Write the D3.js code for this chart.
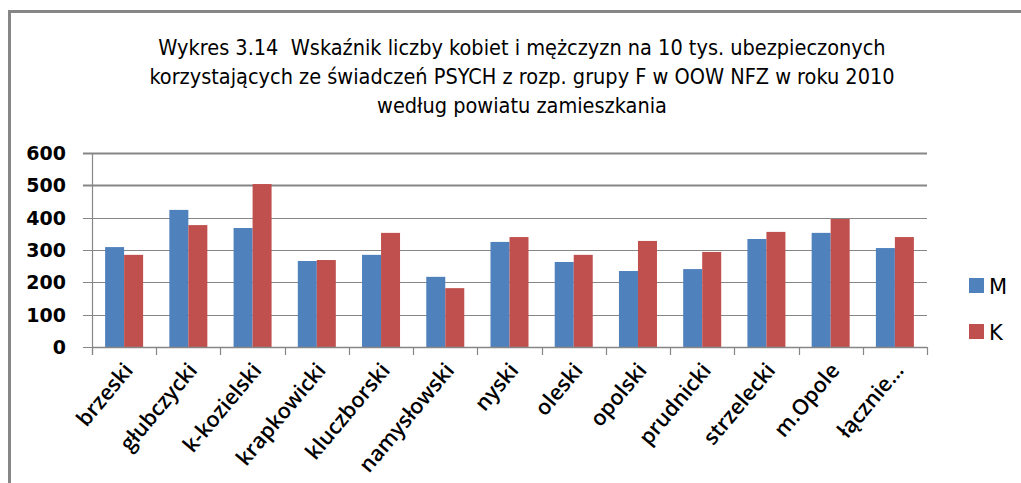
<!DOCTYPE html>
<html>
<head>
<meta charset="utf-8">
<script src="https://cdn.jsdelivr.net/npm/d3@7"></script>
<style>
  body { margin: 0; background: #fff; }
  svg { display: block; }
</style>
</head>
<body>
<div id="chart"></div>
<script>
// data
var categories = ["brzeski", "głubczycki", "k-kozielski", "krapkowicki", "kluczborski", "namysłowski",
  "nyski", "oleski", "opolski", "prudnicki", "strzelecki", "m.Opole", "łącznie..."]
var seriesNames = ["M", "K"]
var valuesM = [309, 424, 368, 266, 285, 217, 325, 263, 235, 241, 334, 353, 306]
var valuesK = [285, 377, 504, 269, 353, 182, 340, 285, 328, 294, 356, 396, 340]
var yTicks = [0, 100, 200, 300, 400, 500, 600]
var titleLines = [
  "Wykres 3.14  Wskaźnik liczby kobiet i mężczyzn na 10 tys. ubezpieczonych",
  "korzystających ze świadczeń PSYCH z rozp. grupy F w OOW NFZ w roku 2010",
  "według powiatu zamieszkania"
]

var width = 1021
var height = 483
var colors = { M: "#4F81BD", K: "#C0504D" }
var gridColor = "#868686"

var rows = categories.map(function (c, i) {
  return { cat: c, M: valuesM[i], K: valuesK[i] }
})

var svg = d3.select("#chart").append("svg")
  .attr("width", width)
  .attr("height", height)

// outer frame
svg.append("rect")
  .attr("x", 9.5).attr("y", 11.5)
  .attr("width", 1030).attr("height", 500)
  .attr("fill", "none")
  .attr("stroke", gridColor)
  .attr("stroke-width", 3)

// title
svg.append("g").selectAll("text")
  .data(titleLines)
  .join("text")
  .attr("x", 522)
  .attr("y", function (d, i) { return 55 + i * 29 })
  .attr("text-anchor", "middle")
  .style("font-family", "'DejaVu Sans Condensed', 'DejaVu Sans', sans-serif")
  .style("font-size", "21.5px")
  .style("white-space", "pre")
  .attr("fill", "#000")
  .text(function (d) { return d })

var plot = { left: 92, right: 927, top: 153, bottom: 347 }

var x0 = d3.scaleBand()
  .domain(categories)
  .range([plot.left, plot.right])
  .padding(0)

var x1 = d3.scaleBand()
  .domain(seriesNames)
  .range([0, x0.bandwidth()])
  .paddingInner(0)
  .paddingOuter(0.69)

var y = d3.scaleLinear()
  .domain([0, 600])
  .range([plot.bottom, plot.top])

// gridlines
svg.append("g").selectAll("line")
  .data(yTicks)
  .join("line")
  .attr("x1", plot.left - 9)
  .attr("x2", plot.right)
  .attr("y1", function (d) { return Math.round(y(d)) + 0.5 })
  .attr("y2", function (d) { return Math.round(y(d)) + 0.5 })
  .attr("stroke", gridColor)
  .attr("stroke-width", function (d) { return d >= 500 ? 2 : 1.2 })

// y labels
svg.append("g").selectAll("text")
  .data(yTicks)
  .join("text")
  .attr("x", 66)
  .attr("y", function (d) { return y(d) + 7 })
  .attr("text-anchor", "end")
  .style("font-family", "'DejaVu Sans', sans-serif")
  .style("font-weight", "bold")
  .style("font-size", "19px")
  .attr("fill", "#000")
  .text(function (d) { return d })

// bars
var groups = svg.append("g").selectAll("g")
  .data(rows)
  .join("g")
  .attr("transform", function (d) { return "translate(" + x0(d.cat) + ",0)" })

groups.selectAll("rect")
  .data(function (d) { return seriesNames.map(function (s) { return { key: s, value: d[s] } }) })
  .join("rect")
  .attr("x", function (d) { return x1(d.key) })
  .attr("width", x1.bandwidth())
  .attr("y", function (d) { return y(d.value) })
  .attr("height", function (d) { return y(0) - y(d.value) })
  .attr("fill", function (d) { return colors[d.key] })

// axes lines
svg.append("line")
  .attr("x1", plot.left + 0.5).attr("x2", plot.left + 0.5)
  .attr("y1", plot.top).attr("y2", plot.bottom + 8)
  .attr("stroke", gridColor).attr("stroke-width", 1.2)

svg.append("line")
  .attr("x1", plot.left).attr("x2", plot.right)
  .attr("y1", plot.bottom + 0.5).attr("y2", plot.bottom + 0.5)
  .attr("stroke", gridColor).attr("stroke-width", 1.5)

// x tick marks at category boundaries
var bounds = categories.map(function (c) { return x0(c) }).concat([plot.right])
svg.append("g").selectAll("line")
  .data(bounds)
  .join("line")
  .attr("x1", function (d) { return Math.round(d) + 0.5 })
  .attr("x2", function (d) { return Math.round(d) + 0.5 })
  .attr("y1", plot.bottom)
  .attr("y2", plot.bottom + 8)
  .attr("stroke", gridColor)
  .attr("stroke-width", 1.2)

// x labels, rotated
svg.append("g").selectAll("text")
  .data(categories)
  .join("text")
  .attr("transform", function (d) {
    return "translate(" + (x0(d) + x0.bandwidth() / 2 + 10) + "," + (plot.bottom + 24) + ") rotate(-50)"
  })
  .attr("text-anchor", "end")
  .style("font-family", "'Open Sans', sans-serif")
  .style("font-weight", "600")
  .style("font-size", "21.5px")
  .attr("fill", "#000")
  .text(function (d) { return d })

// legend
var legend = svg.append("g").selectAll("g")
  .data(seriesNames)
  .join("g")
  .attr("transform", function (d, i) { return "translate(969," + (278 + i * 46) + ")" })

legend.append("rect")
  .attr("width", 15).attr("height", 15)
  .attr("fill", function (d) { return colors[d] })

legend.append("text")
  .attr("x", 20).attr("y", 15.5)
  .style("font-family", "'DejaVu Sans', sans-serif")
  .style("font-size", "21px")
  .attr("fill", "#000")
  .text(function (d) { return d })
</script>
</body>
</html>
